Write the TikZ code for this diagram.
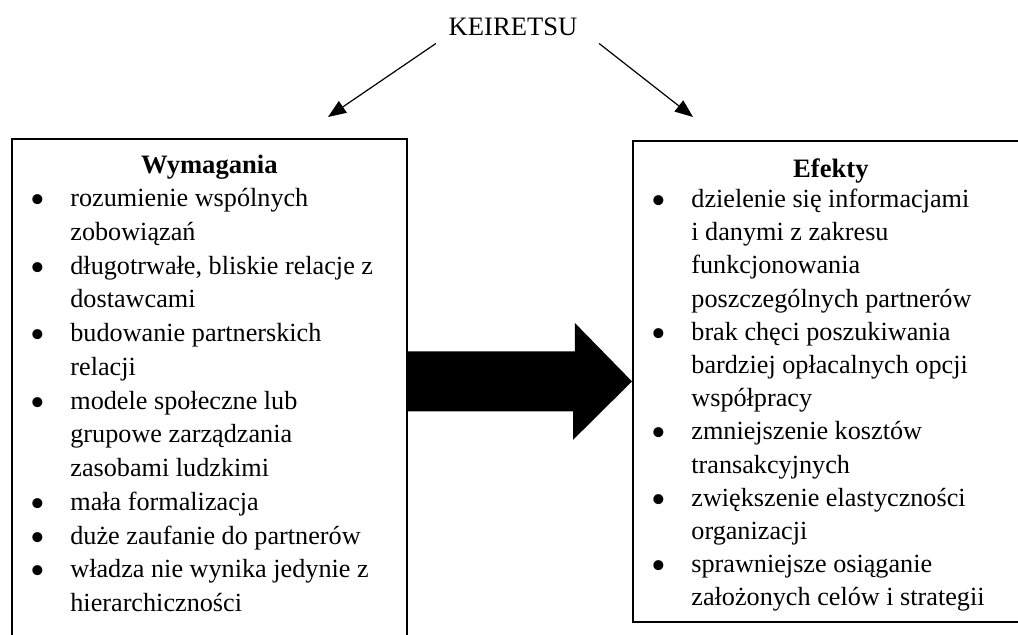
\documentclass[tikz,border=0pt]{standalone}
\usepackage{fontspec}
\setmainfont{Liberation Serif}
\usepackage{array}
\usepackage{graphicx}
\usetikzlibrary{positioning}
\usetikzlibrary{calc}
\usetikzlibrary{arrows.meta}

\tikzset{
	ramka/.style={draw, line width=0.9pt, rectangle, inner sep=0pt, anchor=north west},
	tytul/.style={font=\fontsize{13.3}{16}\selectfont\bfseries, inner sep=0pt, anchor=base},
	lista/.style={inner sep=0pt, anchor=base west, align=left},
	strzalka/.style={-{Triangle[length=9pt,width=7pt]}, line width=0.6pt}
}
\newcommand{\pkt}{\smash{\raisebox{-3.4pt}{\scalebox{1.6}{\textbullet}}}}

\begin{document}
\begin{tikzpicture}[x=0.5pt, y=-0.5pt]
		\useasboundingbox (0,0) rectangle (1018,634);
		
		\node[font=\fontsize{13.3}{16}\selectfont, inner sep=0pt] (keir) at (513,27) {KEIRETSU};
		
		% both frames run past the page edge, as in the source figure
		\node[ramka, minimum width=197.5pt, minimum height=262pt] (wymframe) at (11,138) {};
		\node[ramka, minimum width=198pt, minimum height=240.5pt] (efframe) at (632,140) {};
		
		\node[tytul] (wymtyt) at ($(wymframe.north)+(0,35.3)$) {Wymagania};
		\node[tytul] (eftyt) at ($(efframe.north)+(0,37)$) {Efekty};
		
		\node[lista, font=\fontsize{13.1}{16.875}\selectfont] (wymlist) at ($(wymframe.north west)+(19,68.7)$) {%
			\begin{tabular}[t]{@{}p{20pt}@{}l@{}}
				\pkt & rozumienie wspólnych\\
				& zobowiązań\\
				\pkt & długotrwałe, bliskie relacje z\\
				& dostawcami\\
				\pkt & budowanie partnerskich\\
				& relacji\\
				\pkt & modele społeczne lub\\
				& grupowe zarządzania\\
				& zasobami ludzkimi\\
				\pkt & mała formalizacja\\
				\pkt & duże zaufanie do partnerów\\
				\pkt & władza nie wynika jedynie z\\
				& hierarchiczności
			\end{tabular}};
		
		\node[lista, font=\fontsize{13.1}{16.6}\selectfont] (eflist) at ($(efframe.north west)+(19,67.5)$) {%
			\begin{tabular}[t]{@{}p{20pt}@{}l@{}}
				\pkt & dzielenie się informacjami\\
				& i danymi z zakresu\\
				& funkcjonowania\\
				& poszczególnych partnerów\\
				\pkt & brak chęci poszukiwania\\
				& bardziej opłacalnych opcji\\
				& współpracy\\
				\pkt & zmniejszenie kosztów\\
				& transakcyjnych\\
				\pkt & zwiększenie elastyczności\\
				& organizacji\\
				\pkt & sprawniejsze osiąganie\\
				& założonych celów i strategii
			\end{tabular}};
		
		% thin arrows end just above the frames
		\coordinate (wymin) at (328,117);
		\coordinate (efin) at (693,117);
		\draw[strzalka] ($(keir.south west)+(-12.5,7.2)$) -- (wymin);
		\draw[strzalka] ($(keir.south east)+(21.5,7.2)$) -- (efin);
		
		% the thick block arrow between the frames
		\coordinate (grot) at (efframe.west);
		\fill (wymframe.east |- grot) ++(0,-30) -- ++(167,0) -- ++(0,-28.5) -- (grot) -- ++(-59,58.5) -- ++(0,-28.5) -- ++(-167,0) -- cycle;
		
\end{tikzpicture}
\end{document}
